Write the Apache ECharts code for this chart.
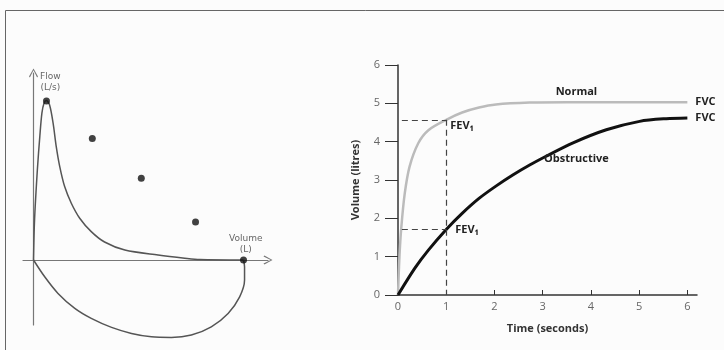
<!DOCTYPE html>
<html>
<head>
<meta charset="utf-8">
<script src="https://cdn.jsdelivr.net/npm/echarts@6/dist/echarts.min.js"></script>
<style>
  html, body { margin: 0; padding: 0; background: #fcfcfc; }
  #chart { width: 724px; height: 350px; }
</style>
</head>
<body>
<div id="chart"></div>
<script>
// flow-volume loop (left)
const loopOutVolume = [0, 0.03, 0.11, 0.18, 0.24, 0.30, 0.37, 0.46, 0.56, 0.65, 0.75, 0.89, 1.08, 1.32, 1.65, 2.03, 2.61, 3.56, 4.32, 4.75, 6.0];
const loopOutFlow = [0, 2.0, 4.5, 6.17, 7.34, 7.84, 7.97, 7.75, 6.84, 5.67, 4.67, 3.67, 2.84, 2.09, 1.42, 0.9, 0.5, 0.25, 0.09, 0.02, 0];
const loopInVolume = [0, 0.32, 0.70, 1.18, 1.65, 2.23, 2.80, 3.37, 3.94, 4.51, 5.08, 5.56, 5.89, 6.03, 6.03, 6.0];
const loopInFlow = [0, -0.84, -1.67, -2.42, -2.92, -3.37, -3.67, -3.84, -3.87, -3.75, -3.34, -2.67, -1.84, -1.0, -0.34, 0];
const dotVolume = [0.37, 1.68, 3.08, 4.63, 6.0];
const dotFlow = [7.95, 6.07, 4.09, 1.9, 0];

// volume-time curves (right)
const normalTime = [0, 0.03, 0.07, 0.14, 0.24, 0.42, 0.63, 1.0, 1.33, 1.68, 2.03, 2.73, 3.5, 4.5, 6];
const normalVolume = [0, 1.0, 1.78, 2.65, 3.35, 3.96, 4.30, 4.57, 4.76, 4.89, 4.97, 5.02, 5.03, 5.03, 5.03];
const obstructiveTime = [0, 0.35, 0.63, 1.0, 1.33, 1.68, 2.03, 2.38, 2.73, 3.07, 3.63, 4.32, 5.01, 5.56, 6];
const obstructiveVolume = [0, 0.70, 1.17, 1.71, 2.13, 2.52, 2.84, 3.13, 3.39, 3.62, 3.97, 4.31, 4.53, 4.60, 4.62];
const fev1Time = 1;
const fev1Normal = 4.57;
const fev1Obstructive = 1.71;
const timeTicks = [0, 1, 2, 3, 4, 5, 6];
const volumeTicks = [0, 1, 2, 3, 4, 5, 6];

const zip = (xs, ys) => xs.map((x, i) => [x, ys[i]]);

const FONT = '"Open Sans", "Noto Sans", sans-serif';
const chevron = 'path://M5,0 L10,9 L9,10 L5,2 L1,10 L0,9 Z';
const dash = { type: [6, 4], color: '#444', width: 1.2 };

const chart = echarts.init(document.getElementById('chart'));

chart.setOption({
  animation: false,
  backgroundColor: '#fcfcfc',
  grid: [
    { left: 23, top: 73, width: 245, height: 252 },
    { left: 398, top: 65, width: 299, height: 230 },
  ],
  xAxis: [
    {
      gridIndex: 0,
      type: 'value',
      min: -0.3,
      max: 6.7,
      axisLine: {
        onZero: true,
        symbol: ['none', chevron],
        symbolSize: [10, 9],
        lineStyle: { color: '#777', width: 1.2 },
      },
      axisTick: { show: false },
      axisLabel: { show: false },
      splitLine: { show: false },
    },
    {
      gridIndex: 1,
      type: 'value',
      min: 0,
      max: 6.2,
      interval: 1,
      name: 'Time (seconds)',
      nameLocation: 'middle',
      nameGap: 28,
      nameTextStyle: { fontFamily: FONT, fontWeight: 'bold', fontSize: 11, color: '#333' },
      axisLine: { lineStyle: { color: '#333', width: 1.5 } },
      axisTick: { inside: true, length: 5, customValues: timeTicks, lineStyle: { color: '#333' } },
      axisLabel: { customValues: timeTicks, margin: 6, fontFamily: FONT, fontSize: 11, color: '#666' },
      splitLine: { show: false },
    },
  ],
  yAxis: [
    {
      gridIndex: 0,
      type: 'value',
      min: -3.25,
      max: 9.35,
      axisLine: {
        onZero: true,
        symbol: ['none', chevron],
        symbolSize: [10, 9],
        lineStyle: { color: '#777', width: 1.2 },
      },
      axisTick: { show: false },
      axisLabel: { show: false },
      splitLine: { show: false },
    },
    {
      gridIndex: 1,
      type: 'value',
      min: 0,
      max: 6,
      interval: 1,
      name: 'Volume (litres)',
      nameLocation: 'middle',
      nameGap: 37,
      nameTextStyle: { fontFamily: FONT, fontWeight: 'bold', fontSize: 11, color: '#333' },
      axisLine: { show: true, lineStyle: { color: '#333', width: 1.5 } },
      axisTick: { show: true, length: 13, lineStyle: { color: '#333' } },
      axisLabel: { customValues: volumeTicks, margin: 18, fontFamily: FONT, fontSize: 11, color: '#666' },
      splitLine: { show: false },
    },
  ],
  series: [
    {
      type: 'line',
      xAxisIndex: 0,
      yAxisIndex: 0,
      data: zip(loopOutVolume, loopOutFlow),
      smooth: 0.3,
      showSymbol: false,
      clip: false,
      lineStyle: { color: '#555', width: 1.5 },
    },
    {
      type: 'line',
      xAxisIndex: 0,
      yAxisIndex: 0,
      data: zip(loopInVolume, loopInFlow),
      smooth: 0.3,
      showSymbol: false,
      clip: false,
      lineStyle: { color: '#555', width: 1.5 },
    },
    {
      type: 'scatter',
      xAxisIndex: 0,
      yAxisIndex: 0,
      data: zip(dotVolume, dotFlow),
      symbolSize: 7,
      itemStyle: { color: '#111' },
      z: 5,
    },
    {
      name: 'Normal',
      type: 'line',
      xAxisIndex: 1,
      yAxisIndex: 1,
      data: zip(normalTime, normalVolume),
      smooth: 0.3,
      showSymbol: false,
      lineStyle: { color: '#bbb', width: 2.5 },
      endLabel: {
        show: true,
        formatter: 'FVC',
        distance: 8,
        fontFamily: FONT,
        fontWeight: 'bold',
        fontSize: 11,
        color: '#222',
      },
      markLine: {
        silent: true,
        symbol: ['none', 'none'],
        label: { show: false },
        lineStyle: dash,
        data: [
          [{ coord: [0.08, fev1Normal] }, { coord: [fev1Time, fev1Normal] }],
          [{ coord: [fev1Time, fev1Normal] }, { coord: [fev1Time, 0] }],
        ],
      },
      markPoint: {
        symbol: 'circle',
        symbolSize: 0,
        label: { fontFamily: FONT, fontWeight: 'bold', fontSize: 11, color: '#222' },
        data: [
          { coord: [3.7, 5.3], label: { position: 'inside', formatter: 'Normal' } },
          { coord: [fev1Time, fev1Normal], label: { position: 'right', distance: 4, offset: [0, 6], formatter: 'FEV₁' } },
        ],
      },
    },
    {
      name: 'Obstructive',
      type: 'line',
      xAxisIndex: 1,
      yAxisIndex: 1,
      data: zip(obstructiveTime, obstructiveVolume),
      smooth: 0.3,
      showSymbol: false,
      lineStyle: { color: '#111', width: 3 },
      endLabel: {
        show: true,
        formatter: 'FVC',
        distance: 8,
        fontFamily: FONT,
        fontWeight: 'bold',
        fontSize: 11,
        color: '#222',
      },
      markLine: {
        silent: true,
        symbol: ['none', 'none'],
        label: { show: false },
        lineStyle: dash,
        data: [
          [{ coord: [0.08, fev1Obstructive] }, { coord: [fev1Time, fev1Obstructive] }],
        ],
      },
      markPoint: {
        symbol: 'circle',
        symbolSize: 0,
        label: { fontFamily: FONT, fontWeight: 'bold', fontSize: 11, color: '#222' },
        data: [
          { coord: [3.7, 3.55], label: { position: 'inside', formatter: 'Obstructive' } },
          { coord: [fev1Time, fev1Obstructive], label: { position: 'right', distance: 9, formatter: 'FEV₁' } },
        ],
      },
    },
  ],
  graphic: [
    {
      type: 'rect',
      silent: true,
      z: -10,
      shape: { x: 5.5, y: 10.5, width: 800, height: 400 },
      style: { fill: 'none', stroke: '#666', lineWidth: 1 },
    },
    {
      type: 'text',
      left: 40,
      top: 71,
      style: { text: 'Flow\n(L/s)', fill: '#666', font: '9px "DejaVu Sans", sans-serif', lineHeight: 11, textAlign: 'center' },
    },
    {
      type: 'text',
      left: 229,
      top: 233,
      style: { text: 'Volume\n(L)', fill: '#666', font: '9px "DejaVu Sans", sans-serif', lineHeight: 11, textAlign: 'center' },
    },
  ],
});

window.addEventListener('resize', () => chart.resize());
</script>
</body>
</html>
